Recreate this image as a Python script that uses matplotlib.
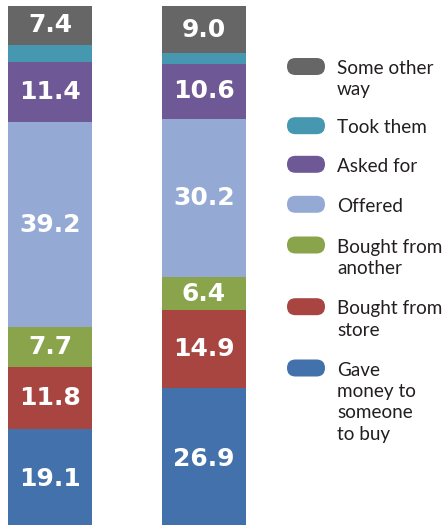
import matplotlib
matplotlib.use("Agg")
import matplotlib.pyplot as plt
import numpy as np
from matplotlib.patches import FancyBboxPatch

# stacked from bottom to top
categories = [
    "Gave\nmoney to\nsomeone\nto buy",
    "Bought from\nstore",
    "Bought from\nanother",
    "Offered",
    "Asked for",
    "Took them",
    "Some other\nway",
]
colors = ["#4271ab", "#a84541", "#89a44a", "#94aad4", "#6e5895", "#4698b0", "#666666"]
left_values = [19.1, 11.8, 7.7, 39.2, 11.4, 3.4, 7.4]
right_values = [26.9, 14.9, 6.4, 30.2, 10.6, 2.0, 9.0]

W, H = 446, 525
fig = plt.figure(figsize=(W / 100, H / 100), dpi=100)

ax = fig.add_axes([0, -4 / H, 260 / W, 523 / H])
ax.set_xlim(-50 / 154, 210 / 154)
ax.set_ylim(0, 100)
ax.axis("off")

xs = [0, 1]
series = np.array([left_values, right_values])
bottoms = np.zeros(2)
for i, col in enumerate(colors):
    vals = series[:, i]
    ax.bar(xs, vals, bottom=bottoms, width=84 / 154, color=col, linewidth=0)
    for x, b, v in zip(xs, bottoms, vals):
        if v >= 5:
            ax.text(x, b + v / 2, f"{v:.1f}", ha="center", va="center",
                    color="white", fontsize=18, fontweight="bold",
                    family="DejaVu Sans")
    bottoms += vals

# legend drawn in pixel space
lax = fig.add_axes([0, 0, 1, 1])
lax.set_xlim(0, W)
lax.set_ylim(H, 0)
lax.axis("off")
legend_y = [368, 306.7, 245, 204.3, 164.3, 125.7, 66.5]
for lab, col, y in zip(categories, colors, legend_y):
    lax.add_patch(FancyBboxPatch((287 + 8.5, y), 38 - 17, 0,
                                 boxstyle="round,pad=8.5", color=col, linewidth=0))
    for k, line in enumerate(lab.split("\n")):
        lax.text(337, y + 7.7 + k * 21.3, line, ha="left", va="baseline",
                 fontsize=13.6, color="#231f20", family="Lato")

fig.savefig("out.png", dpi=100)
